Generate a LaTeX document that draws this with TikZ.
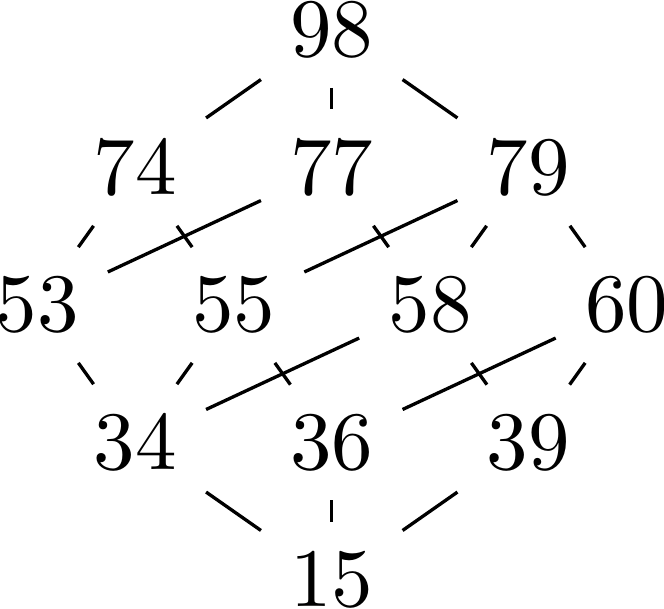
\documentclass[tikz,border=0pt]{standalone}
\begin{document}
\begin{tikzpicture}[x=0.12048pt,y=-0.12048pt,
  num/.style={inner sep=0.3333em},
  edge/.style={line width=0.4pt}]
\useasboundingbox (0,0) rectangle (664,608);
% rows: centers y = 30 + 137.5 r ; columns x = 37 + 98.25 k
\node[num] (n98) at (331.75,30) {98};
\node[num] (n74) at (135.25,167.5) {74};
\node[num] (n77) at (331.75,167.5) {77};
\node[num] (n79) at (528.25,167.5) {79};
\node[num] (n53) at (37,305) {53};
\node[num] (n55) at (233.5,305) {55};
\node[num] (n58) at (430,305) {58};
\node[num] (n60) at (626.5,305) {60};
\node[num] (n34) at (135.25,442.5) {34};
\node[num] (n36) at (331.75,442.5) {36};
\node[num] (n39) at (528.25,442.5) {39};
\node[num] (n15) at (331.75,580) {15};
\draw[edge] (n98) -- (n74);
\draw[edge] (n98) -- (n77);
\draw[edge] (n98) -- (n79);
\draw[edge] (n74) -- (n53);
\draw[edge] (n74) -- (n55);
\draw[edge] (n77) -- (n53);
\draw[edge] (n77) -- (n58);
\draw[edge] (n79) -- (n55);
\draw[edge] (n79) -- (n58);
\draw[edge] (n79) -- (n60);
\draw[edge] (n53) -- (n34);
\draw[edge] (n55) -- (n34);
\draw[edge] (n55) -- (n36);
\draw[edge] (n58) -- (n34);
\draw[edge] (n58) -- (n39);
\draw[edge] (n60) -- (n36);
\draw[edge] (n60) -- (n39);
\draw[edge] (n34) -- (n15);
\draw[edge] (n36) -- (n15);
\draw[edge] (n39) -- (n15);
\end{tikzpicture}
\end{document}
